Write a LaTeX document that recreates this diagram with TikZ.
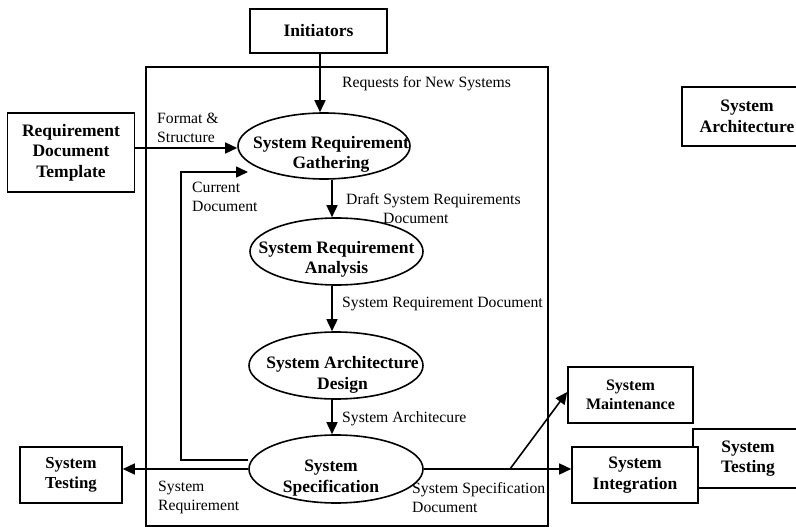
\documentclass[tikz,border=0pt]{standalone}
\usepackage{fontspec}
\setmainfont{Liberation Serif}
\usetikzlibrary{arrows.meta,backgrounds,shapes.geometric}

\tikzset{
  box/.style={draw, line width=1.6pt, fill=white, inner sep=0pt, align=center,
    font=\fontsize{17.5}{20.5}\selectfont\bfseries},
  bub/.style={draw, ellipse, line width=1.6pt, fill=white, inner sep=0pt},
  btxt/.style={font=\fontsize{17.5}{20.5}\selectfont\bfseries, align=center, inner sep=0pt},
  lbl/.style={font=\fontsize{15.7}{18.8}\selectfont, align=left, inner sep=0pt, anchor=west},
  flow/.style={line width=1.6pt, -{Triangle[length=12pt,width=11pt]}},
}

\begin{document}
\begin{tikzpicture}[x=1pt,y=-1pt]
\useasboundingbox (0,0) rectangle (796,527);
\clip (0,0) rectangle (796,527);

% system boundary
\draw[line width=1.6pt] (146,67) rectangle (548,526);

% external boxes
\node[box, minimum width=137pt, minimum height=44pt] (init) at (318.5,31) {Initiators};
\node[box, minimum width=127pt, minimum height=79pt] (tmpl) at (71,152.5) {Requirement\\Document\\Template};
\node[box, minimum width=130pt, minimum height=59pt] (sysarch) at (747,116.5) {System\\Architecture};
\node[box, minimum width=110pt, minimum height=59pt] (rtest) at (748,458.5) {System\\Testing};
\node[box, minimum width=126pt, minimum height=56pt] (integ) at (635,475) {System\\Integration};
\node[box, minimum width=125pt, minimum height=56pt,
      font=\fontsize{16}{18.5}\selectfont\bfseries] (maint) at (630.5,395) {System\\Maintenance};
\node[box, minimum width=102pt, minimum height=56pt,
      font=\fontsize{16.8}{19.5}\selectfont\bfseries] (ltest) at (71,475) {System\\Testing};

% process bubbles
\node[bub, minimum width=172pt, minimum height=66pt] (gather) at (324,146) {};
\node[bub, minimum width=173pt, minimum height=67pt] (anal) at (336.5,251.5) {};
\node[bub, minimum width=174pt, minimum height=67pt] (design) at (336,365.5) {};
\node[bub, minimum width=174pt, minimum height=68pt] (spec) at (336,469) {};

\node[btxt] (gatherT) at (331,154.5) {System Requirement\\Gathering};
\node[btxt] (analT) at (336.5,259.5) {System Requirement\\Analysis};
\node[btxt] (designT) at (342.5,375) {System Architecture\\Design};
\node[btxt] (specT) at (331,478) {System\\Specification};

% data flows
\coordinate (fbk) at (248,172);
\coordinate (fork) at (510,469);
\begin{scope}[on background layer]
\draw[flow] (init.south -| 320,0) -- (gather.north -| 320,0);
\draw[flow] (tmpl.east |- 0,148) -- (gather.west |- 0,148);
\draw[flow] (gather.south -| 332,0) -- (anal.north -| 332,0);
\draw[flow] (anal.south -| 332,0) -- (design.north -| 332,0);
\draw[flow] (design.south -| 332,0) -- (spec.north -| 332,0);
\draw[flow] (spec.west |- 0,460) -- ++(-67,0) |- (fbk);
\draw[flow] (spec.west) -- (spec.west -| ltest.east);
\draw[flow] (spec.east) -- (spec.east -| integ.west);
\draw[flow] (fork) -- (maint.west |- 0,392);
\end{scope}

% flow labels
\node[lbl] (lreq) at (342,84) {Requests for New Systems};
\node[lbl] (lfmt) at (157,127.5) {Format \&\\Structure};
\node[lbl] (lcur) at (192,196.5) {Current\\Document};
\node[lbl] (ldraft) at (346,208.5) {Draft System Requirements\\\hspace*{37pt}Document};
\node[lbl] (lsrd) at (342,304) {System Requirement Document};
\node[lbl] (lsa) at (342,419) {System Architecure};
\node[lbl] (lsr) at (158,497.5) {System\\Requirement};
\node[lbl] (lssd) at (412,497.5) {System Specification\\Document};
\end{tikzpicture}
\end{document}
